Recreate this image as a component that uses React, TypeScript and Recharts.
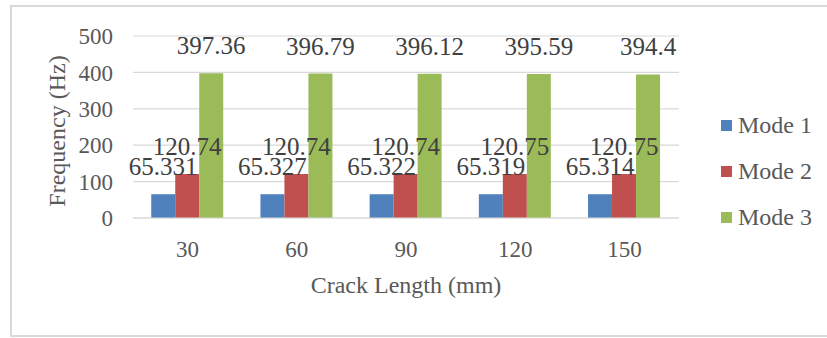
import React from 'react';
import {
  BarChart, Bar, XAxis, YAxis, CartesianGrid, Legend, LabelList, Label,
} from 'recharts';

const crackLengths = [30, 60, 90, 120, 150];
const mode1 = [65.331, 65.327, 65.322, 65.319, 65.314];
const mode2 = [120.74, 120.74, 120.74, 120.75, 120.75];
const mode3 = [397.36, 396.79, 396.12, 395.59, 394.4];
const yTicks = [0, 100, 200, 300, 400, 500];

const seriesNames = ['Mode 1', 'Mode 2', 'Mode 3'];
const seriesColors = ['#4F81BD', '#C0504D', '#9BBB59'];

const data = crackLengths.map((len, i) => ({
  length: len,
  mode1: mode1[i],
  mode2: mode2[i],
  mode3: mode3[i],
}));

const FONT = '"Liberation Serif", "Times New Roman", serif';
const AXIS_TEXT = '#595959';
const LABEL_TEXT = '#404040';
const GRID = '#D9D9D9';

const LegendBox = () => (
  <div style={{ fontFamily: FONT, fontSize: 24, color: AXIS_TEXT }}>
    {seriesNames.map((name, i) => (
      <div key={name} style={{ display: 'flex', alignItems: 'center', height: 46 }}>
        <span style={{ width: 11, height: 11, background: seriesColors[i], marginRight: 6, display: 'inline-block' }} />
        <span>{name}</span>
      </div>
    ))}
  </div>
);

// thin frame segments drawn as plain blocks
const line = (s: React.CSSProperties): React.CSSProperties => ({
  position: 'absolute', background: GRID, pointerEvents: 'none', zIndex: 2, ...s,
});

const App: React.FC = () => {
  return (
    <div style={{ position: 'fixed', left: 0, top: 0, width: 827, height: 338, background: '#fff', overflow: 'hidden' }}>
      <BarChart
        width={827}
        height={338}
        data={data}
        margin={{ top: 36, right: 148, left: 0, bottom: 0 }}
        barCategoryGap="16.7%"
        barGap={0}
      >
        <CartesianGrid vertical={false} stroke={GRID} strokeWidth={1.2} />
        <XAxis
          dataKey="length"
          height={120}
          axisLine={{ stroke: GRID, strokeWidth: 1.2 }}
          tickLine={false}
          tickMargin={17}
          tick={{ fill: AXIS_TEXT, fontSize: 23, fontFamily: FONT }}
        >
          <Label
            content={({ viewBox }: any) => (
              <text
                x={viewBox.x + viewBox.width / 2}
                y={viewBox.y + 75}
                textAnchor="middle"
                fill={AXIS_TEXT}
                fontSize={24}
                fontFamily={FONT}
              >
                Crack Length (mm)
              </text>
            )}
          />
        </XAxis>
        <YAxis
          width={133}
          domain={[0, 500]}
          ticks={yTicks}
          axisLine={false}
          tickLine={false}
          tickMargin={14}
          tick={{ fill: AXIS_TEXT, fontSize: 23, fontFamily: FONT }}
        >
          <Label
            content={({ viewBox }: any) => {
              const cx = viewBox.x + 57;
              const cy = viewBox.y + viewBox.height / 2 + 4;
              return (
                <text
                  x={cx}
                  y={cy}
                  transform={`rotate(-90 ${cx} ${cy})`}
                  textAnchor="middle"
                  dominantBaseline="central"
                  fill={AXIS_TEXT}
                  fontSize={24}
                  fontFamily={FONT}
                >
                  Frequency (Hz)
                </text>
              );
            }}
          />
        </YAxis>
        <Legend
          layout="vertical"
          align="center"
          verticalAlign="middle"
          content={<LegendBox />}
          wrapperStyle={{ left: 721, top: 102, width: 110 }}
        />
        {['mode1', 'mode2', 'mode3'].map((key, i) => (
          <Bar
            key={key}
            dataKey={key}
            name={seriesNames[i]}
            fill={seriesColors[i]}
            isAnimationActive={false}
          >
            <LabelList
              dataKey={key}
              position="top"
              offset={19}
              fill={LABEL_TEXT}
              fontSize={25}
              fontFamily={FONT}
            />
          </Bar>
        ))}
      </BarChart>
      {/* chart frame, open on the right */}
      <div style={line({ left: 10, top: 5, width: 817, height: 2 })} />
      <div style={line({ left: 10, top: 5, width: 2, height: 332 })} />
      <div style={line({ left: 10, top: 335, width: 817, height: 2 })} />
    </div>
  );
};

export default App;
